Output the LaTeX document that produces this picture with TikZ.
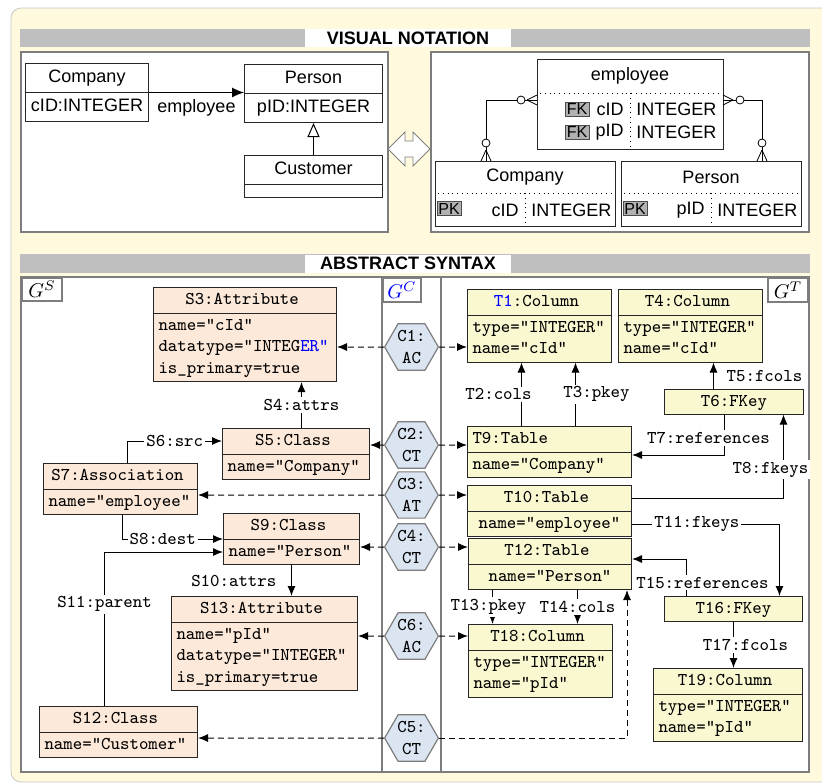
\documentclass[tikz,border=0pt]{standalone}
\usepackage{fontspec}
\setsansfont{Liberation Sans}
\usetikzlibrary{arrows.meta, calc, shapes.geometric, shapes.multipart}

\definecolor{bgYellow}{RGB}{255,250,222}
\definecolor{barGray}{RGB}{191,191,191}
\definecolor{panelGray}{RGB}{125,125,125}
\definecolor{srcFill}{RGB}{253,233,217}
\definecolor{trgFill}{RGB}{250,248,208}
\definecolor{corrFill}{RGB}{219,229,241}

\tikzset{
  vnfont/.style={font=\sffamily\fontsize{9}{11}\selectfont},
  ttfont/.style={font=\ttfamily\fontsize{9}{10.75}\selectfont},
  header/.style={font=\sffamily\bfseries\fontsize{9}{11}\selectfont, fill=white, inner sep=0pt, minimum width=103pt, minimum height=9pt},
  panel/.style={draw=panelGray, line width=1pt, fill=white},
  glabel/.style={draw=panelGray, line width=1pt, fill=white, inner sep=1pt, minimum width=20pt, minimum height=11.5pt},
  umlbox/.style={vnfont, draw=black!85, line width=0.5pt, fill=white, rectangle split, rectangle split parts=2,
    inner xsep=2pt, inner ysep=1.5pt, align=center, execute at begin node=\strut, anchor=north west},
  erbox/.style={draw=black!85, line width=0.5pt, fill=white},
  keybox/.style={font=\sffamily\fontsize{8}{9}\selectfont, draw=black!70, fill=gray!60, inner sep=0.6pt, minimum width=12pt, minimum height=7pt},
  graphbox/.style={ttfont, draw=black!85, line width=0.5pt, rectangle split, rectangle split parts=2,
    inner xsep=2.5pt, inner ysep=0.75pt, align=center, every two node part/.style={align=left},
    execute at begin node=\strut, execute at end node=\strut, anchor=north west},
  srcbox/.style={graphbox, fill=srcFill},
  trgbox/.style={graphbox, fill=trgFill},
  fkeybox/.style={ttfont, draw=black!85, line width=0.5pt, fill=trgFill, inner ysep=0.75pt, execute at begin node=\strut, anchor=north west},
  corrnode/.style={ttfont, draw=panelGray, line width=0.6pt, fill=corrFill, regular polygon, regular polygon sides=6,
    inner sep=0pt, align=center},
  link/.style={-{Latex[length=5pt, width=4pt]}, line width=0.5pt},
  corrlink/.style={link, dash pattern=on 3pt off 2pt},
  lbl/.style={ttfont, fill=white, inner sep=1pt},
}

\begin{document}
\begin{tikzpicture}[x=0.5pt, y=-0.5pt]
  \useasboundingbox (0,0) rectangle (822,783);
  \path[draw=gray!45, fill=bgYellow, rounded corners=5pt] (822,8) -- (11,8) -- (11,782) -- (822,782);

  % visual notation
  \fill[barGray] (20,29) rectangle (810,47);
  \node[header] (vnhead) at (408,38) {VISUAL NOTATION};
  \draw[panel] (21,52) rectangle (388,232);
  \draw[panel] (431,52) rectangle (809,232);

  \node[umlbox, text width=57.5pt] (company) at (25,63) {Company \nodepart{two} cID:INTEGER};
  \node[umlbox, text width=65pt] (person) at (244,64) {Person \nodepart{two} pID:INTEGER};
  \node[umlbox, text width=65pt, every two node part/.style={font=\fontsize{2}{3}\selectfont}] (customer) at (244,155) {Customer \nodepart{two}};
  \draw[-{Latex[length=6pt, width=5pt]}, line width=0.5pt] (company.text split east) -- (company.text split east -| person.west)
    node[midway, below, vnfont] {employee};
  \draw[-{Triangle[open, length=7pt, width=6pt]}, line width=0.5pt] (customer.north) -- (person.south);

  \draw[draw=gray, fill=white] (388,149) -- (405,132) -- (405,141) -- (413,141) -- (413,132) -- (430,149)
    -- (413,166) -- (413,157) -- (405,157) -- (405,166) -- cycle;

  \node[erbox, minimum width=93pt, minimum height=45pt] (employee) at (630,104) {};
  \node[vnfont] (emptitle) at (630,76) {employee};
  \draw[dotted] (540,93) -- (720,93);
  \draw[dotted] (630,93) -- (employee.south);
  \node[keybox] (fk1) at (577,109) {FK};
  \node[vnfont, anchor=east, inner xsep=2pt] (fk1name) at (628,109) {cID};
  \node[vnfont, anchor=west, inner xsep=2pt] (fk1type) at (632,109) {INTEGER};
  \node[keybox] (fk2) at (577,132) {FK};
  \node[vnfont, anchor=east, inner xsep=2pt] (fk2name) at (628,132) {pID};
  \node[vnfont, anchor=west, inner xsep=2pt] (fk2type) at (632,132) {INTEGER};

  \node[erbox, minimum width=90pt, minimum height=32.5pt] (ercompany) at (525,193.5) {};
  \node[vnfont] (comptitle) at (525,177) {Company};
  \draw[dotted] (438,193) -- (612,193);
  \draw[dotted] (525,193) -- (ercompany.south);
  \node[keybox] (pk1) at (449,208.5) {PK};
  \node[vnfont, anchor=east, inner xsep=2pt] (pk1name) at (523,210) {cID};
  \node[vnfont, anchor=west, inner xsep=2pt] (pk1type) at (527,210) {INTEGER};

  \node[erbox, minimum width=90pt, minimum height=32.5pt] (erperson) at (711,193.5) {};
  \node[vnfont] (perstitle) at (711,177) {Person};
  \draw[dotted] (624,193) -- (798,193);
  \draw[dotted] (711,193) -- (erperson.south);
  \node[keybox] (pk2) at (635,208.5) {PK};
  \node[vnfont, anchor=east, inner xsep=2pt] (pk2name) at (709,210) {pID};
  \node[vnfont, anchor=west, inner xsep=2pt] (pk2type) at (713,210) {INTEGER};

  \draw ([xshift=-19.5pt]ercompany.north) |- ([yshift=2pt]employee.west);
  \draw ([xshift=25.5pt]erperson.north) |- ([yshift=2pt]employee.east);
  \foreach \d in {-5,0,5} {
    \draw (527,100) -- (537,100+\d);
    \draw (733,100) -- (723,100+\d);
    \draw (486,150) -- (486+\d,161);
    \draw (762,150) -- (762+\d,161);
  }
  \foreach \p in {(521,100),(740,100),(486,143),(762,143)}
    \draw[fill=white] \p circle[radius=4];

  % abstract syntax
  \fill[barGray] (20,254) rectangle (810,273);
  \node[header] (ashead) at (408,263.5) {ABSTRACT SYNTAX};
  \draw[panel] (21,277) rectangle (382,772);
  \draw[panel] (382,277) rectangle (441,772);
  \draw[panel] (441,277) rectangle (809,772);
  \node[glabel, anchor=north west] (gs) at (21,277) {$G^S$};
  \node[glabel, anchor=north west, minimum width=19pt, minimum height=12pt, text=blue] (gc) at (382,277) {$G^C$};
  \node[glabel, anchor=north east, minimum height=12pt] (gt) at (809,277) {$G^T$};

  \node[srcbox, text width=86.5pt] (S3) at (153,287) {S3:Attribute \nodepart{two} name="cId"\\ datatype="INTEG\textcolor{blue}{ER"}\\ is\_primary=true};
  \node[srcbox, text width=68.5pt] (S5) at (222,428) {S5:Class \nodepart{two} name="Company"};
  \node[srcbox, text width=72pt] (S7) at (43,463) {S7:Association \nodepart{two} name="employee"};
  \node[srcbox, text width=63pt] (S9) at (223,513) {S9:Class \nodepart{two} name="Person"};
  \node[srcbox, text width=88pt] (S13) at (171,596) {S13:Attribute \nodepart{two} name="pId"\\ datatype="INTEGER"\\ is\_primary=true};
  \node[srcbox, text width=74pt] (S12) at (39,706) {S12:Class \nodepart{two} name="Customer"};

  \node[trgbox, text width=67pt] (T1) at (467,289) {\textcolor{blue}{T1}:Column \nodepart{two} type="INTEGER"\\ name="cId"};
  \node[trgbox, text width=67pt] (T4) at (618,289) {T4:Column \nodepart{two} type="INTEGER"\\ name="cId"};
  \node[fkeybox, minimum width=69.5pt] (T6) at (664,389) {T6:FKey};
  \node[trgbox, text width=77pt, align=left] (T9) at (467,426) {T9:Table \nodepart{two} name="Company"};
  \node[trgbox, text width=77pt, every two node part/.style={align=center}] (T10) at (467,485) {T10:Table \nodepart{two} name="employee"};
  \node[trgbox, text width=76.5pt, every two node part/.style={align=center}] (T12) at (468,538) {T12:Table \nodepart{two} name="Person"};
  \node[fkeybox, minimum width=69pt] (T16) at (664,596) {T16:FKey};
  \node[trgbox, text width=67pt] (T18) at (468,624) {T18:Column \nodepart{two} type="INTEGER"\\ name="pId"};
  \node[trgbox, text width=69.5pt] (T19) at (653,668) {T19:Column \nodepart{two} type="INTEGER"\\ name="pId"};

  \foreach \c/\kind/\y in {C1/AC/347, C2/CT/445, C3/AT/495, C4/CT/547, C6/AC/636, C5/CT/738}
    \node[corrnode] (\c) at (411.5,\y) {\c:\\\kind};
  \foreach \c/\s/\t in {C1/S3/T1, C2/S5/T9, C3/S7/T10, C4/S9/T12, C6/S13/T18} {
    \draw[corrlink] (\c) -- (\c -| \s.east);
    \draw[corrlink] (\c) -- (\c -| \t.west);
  }
  \draw[corrlink] (C5) -- (C5 -| S12.east);
  \draw[corrlink] (C5) -| ([xshift=-2.5pt]T12.south east);

  \draw[link] ([xshift=2.75pt]S5.north) -- ([xshift=2.75pt]S5.north |- S3.south) node[midway, lbl] {S4:attrs};
  \draw[link] ([xshift=3.5pt]S7.north) |- ($(S5.north west)!.5!(S5.text split west)$) node[pos=.75, lbl] {S6:src};
  \draw[link] ([xshift=1pt]S7.south) |- (S9.text split west) node[pos=.7, lbl] {S8:dest};
  \draw[link] ([xshift=-7pt]S12.north) |- ($(S9.text split west)!.5!(S9.south west)$) node[pos=.33, lbl] {S11:parent};
  \draw[link] (S9.south) -- (S9.south |- S13.north) node[midway, left=4pt, ttfont] {S10:attrs};

  \draw[link] ([xshift=-14pt]T9.north) -- ([xshift=-14pt]T9.north |- T1.south) node[midway, lbl, xshift=-11.5pt] {T2:cols};
  \draw[link] ([xshift=13pt]T9.north) -- ([xshift=13pt]T9.north |- T1.south) node[midway, lbl, xshift=10.5pt] {T3:pkey};
  \draw[link] ([xshift=-10.25pt]T6.north) -- ([xshift=-10.25pt]T6.north |- T4.south) node[midway, right=3pt, ttfont] {T5:fcols};
  \draw[link] ([xshift=-4.75pt]T6.south) |- ([yshift=-1.5pt]T9.text split east) node[pos=.29, lbl, xshift=-8pt] {T7:references};
  \draw[link] ($(T10.north east)!.5!(T10.text split east)$) -| ([xshift=24.75pt]T6.south) node[pos=.67, lbl, xshift=-6.5pt] {T8:fkeys};
  \draw[link] ($(T10.text split east)!.5!(T10.south east)$) -| ([xshift=23pt]T16.north) node[pos=.22, lbl] {T11:fkeys};
  \draw[link] ([xshift=-23.5pt]T16.north) |- ([yshift=2.5pt]T12.text split east) node[pos=.18, lbl, xshift=8pt] {T15:references};
  \draw[link] ([xshift=-28.75pt]T12.south) -- ([xshift=-28.75pt]T12.south |- T18.north) node[midway, lbl, xshift=-2pt] {T13:pkey};
  \draw[link] ([xshift=13.75pt]T12.south) -- ([xshift=13.75pt]T12.south |- T18.north) node[midway, lbl] {T14:cols};
  \draw[link] (T16.south) -- (T16.south |- T19.north) node[midway, lbl, xshift=6pt] {T17:fcols};
\end{tikzpicture}
\end{document}
